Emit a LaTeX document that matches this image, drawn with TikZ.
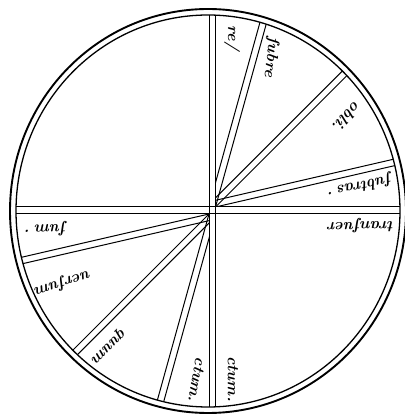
\documentclass[tikz,border=0pt]{standalone}
\begin{document}
\begin{tikzpicture}[x=1pt, y=1pt,
    ring/.style={line width=1.9pt},
    band/.style={line width=1pt},
    word/.style={font=\fontsize{16}{16}\selectfont\bfseries\itshape, inner sep=0pt}]
  \useasboundingbox (0,0) rectangle (404,420);
  % Rings
  \coordinate (C) at (208,209);
  \draw[ring] (C) ellipse [x radius=198pt, y radius=202pt];
  \draw[ring, line width=1.3pt] (C) ellipse [x radius=192pt, y radius=196pt];
  % Cross of the two main bands
  \begin{scope}
    \clip (C) ellipse [x radius=192pt, y radius=196pt];
    \draw[band] (209,0) -- (209,420) (215.5,0) -- (215.5,420);
    \draw[band] (0,213) -- (404,213) (0,206) -- (404,206);
  \end{scope}
  % Upper right bands
  \begin{scope}
    \clip (C) ellipse [x radius=192pt, y radius=196pt];
    \clip (215.5,213) rectangle (420,430);
    \foreach \a in {74.5,45,13}
      \draw[band, shift={(215.5,213)}, rotate=\a] (-20,0) -- (300,0) (-20,6.5) -- (300,6.5);
  \end{scope}
  % Lower left bands
  \begin{scope}
    \clip (C) ellipse [x radius=192pt, y radius=196pt];
    \clip (-10,-10) rectangle (209,206);
    \foreach \a in {254.5,225,193}
      \draw[band, shift={(209,206)}, rotate=\a] (-20,0) -- (300,0) (-20,6.5) -- (300,6.5);
  \end{scope}
  % Words
  \node[word, rotate=-90] (re) at (232,382) {re/};
  \node[word, rotate=-97] (subre) at (271,363) {ſubre};
  \node[word, rotate=-134] (obli) at (347,303) {obli.};
  \node[word, rotate=192] (subtras) at (358,234) {ſubtras·};
  \node[word, rotate=181] (transuer) at (361,194) {tranſuer};
  \node[word, rotate=182] (sum) at (44,191) {ſum·};
  \node[word, rotate=198] (uersum) at (63,137) {uerſum};
  \node[word, rotate=225] (quum) at (108,75) {quum};
  \node[word, rotate=-100] (ctuma) at (197,40) {ctum.};
  \node[word, rotate=-90] (ctumb) at (233,41) {ctum.};
\end{tikzpicture}
\end{document}
